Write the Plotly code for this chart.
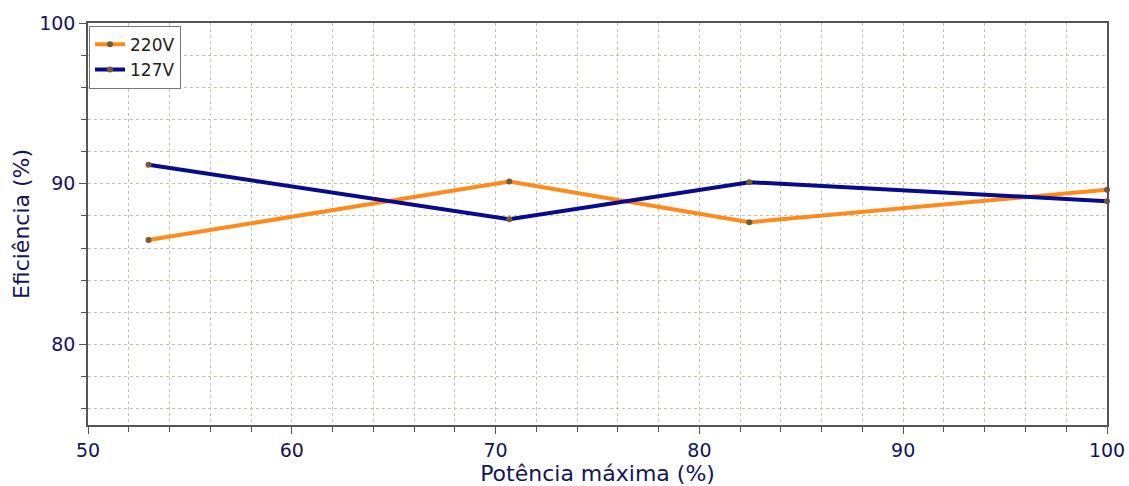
import plotly.graph_objects as go

potencia = [52.97, 70.67, 82.45, 100.0]
ef_220 = [86.51, 90.14, 87.61, 89.63]
ef_127 = [91.18, 87.79, 90.10, 88.92]

navy = "#14145a"
grid_c = "#c2c2a6"

fig = go.Figure()
fig.add_trace(go.Scatter(x=potencia, y=ef_220, name="220V", mode="lines+markers",
                         line=dict(color="#ff8a1a", width=4),
                         marker=dict(color="#7a5a32", size=6), cliponaxis=False))
fig.add_trace(go.Scatter(x=potencia, y=ef_127, name="127V", mode="lines+markers",
                         line=dict(color="#0a0a8c", width=4),
                         marker=dict(color="#7a5a32", size=6), cliponaxis=False))

axis_common = dict(
    showline=True, linecolor="#555555", linewidth=1.5, mirror=True,
    ticks="outside", ticklen=7, tickcolor="#555555",
    showgrid=True, gridcolor=grid_c, griddash="dot", gridwidth=1,
    tickfont=dict(family="DejaVu Sans", size=19, color=navy),
    zeroline=False, automargin=False,
)

fig.update_xaxes(range=[50, 100], dtick=10, tick0=50,
                 minor=dict(dtick=2, ticks="outside", ticklen=5, tickcolor="#555555",
                            showgrid=True, gridcolor=grid_c, griddash="dot"),
                 title=dict(text="Potência máxima (%)", standoff=0,
                            font=dict(family="DejaVu Sans", size=22, color=navy)),
                 **axis_common)
fig.update_yaxes(range=[75, 100], dtick=10, tick0=80,
                 minor=dict(dtick=2, ticks="outside", ticklen=5, tickcolor="#555555",
                            showgrid=True, gridcolor=grid_c, griddash="dot"),
                 title=dict(text="Eficiência (%)", standoff=3,
                            font=dict(family="DejaVu Sans", size=22, color=navy)),
                 **axis_common)

fig.update_layout(
    width=1129, height=486,
    margin=dict(l=88, r=22, t=23, b=61),
    paper_bgcolor="white", plot_bgcolor="white",
    showlegend=True,
    legend=dict(x=0.001, y=0.993, xanchor="left", yanchor="top",
                bgcolor="white", bordercolor="#777777", borderwidth=1,
                font=dict(family="DejaVu Sans", size=17, color="#222222"),
                itemwidth=30, tracegroupgap=0),
)

# remove the default page margin so the figure sits at the window origin
fig.write_html("out.html",
               config={"displayModeBar": False},
               post_script="document.body.style.margin='0';document.body.style.overflow='hidden';")
